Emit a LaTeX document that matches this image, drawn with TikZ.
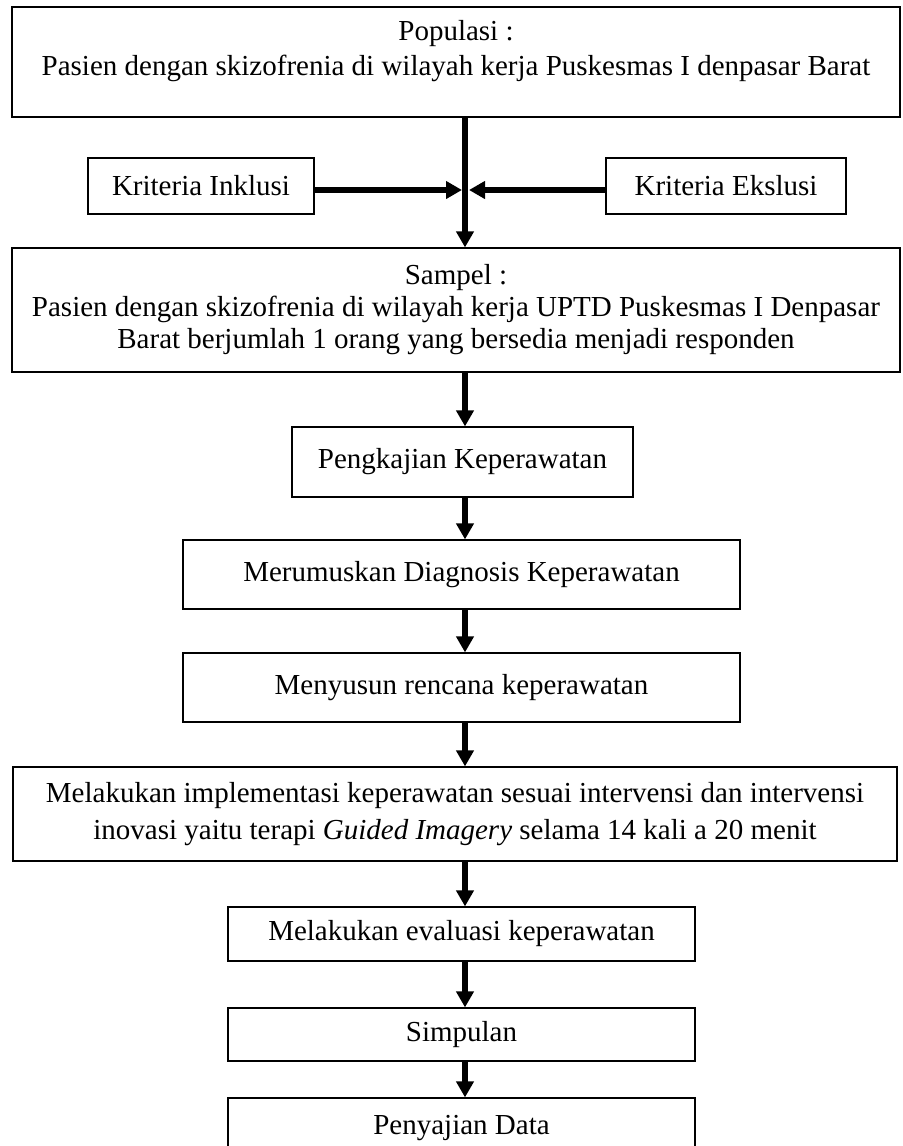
\documentclass[tikz,border=0pt]{standalone}
\usepackage{fontspec}
\setmainfont{Liberation Serif}
\usetikzlibrary{arrows.meta}
\begin{document}
\begin{tikzpicture}[x=0.5pt,y=-0.5pt,
        box/.style={draw,line width=0.6pt,inner sep=0pt,align=center,font=\fontsize{14.5}{17.5}\selectfont},
        arr/.style={line width=3pt,-{Triangle[width=8.5pt,length=8pt]}}]
        \useasboundingbox (0,0) rectangle (902,1146);
        \node[box,minimum width=444pt,minimum height=55pt,text depth=14pt] (pop) at (456,62) {Populasi :\\Pasien dengan skizofrenia di wilayah kerja Puskesmas I denpasar Barat};
        \node[box,minimum width=113pt,minimum height=28pt] (inkl) at (201,186) {Kriteria Inklusi};
        \node[box,minimum width=120pt,minimum height=28pt] (eksl) at (726,186) {Kriteria Ekslusi};
        \node[box,minimum width=444pt,minimum height=62pt,font=\fontsize{14.5}{16}\selectfont] (samp) at (456,310) {Sampel :\\Pasien dengan skizofrenia di wilayah kerja UPTD Puskesmas I Denpasar\\Barat berjumlah 1 orang yang bersedia menjadi responden};
        \node[box,minimum width=170.5pt,minimum height=35pt] (peng) at (462.5,462) {Pengkajian Keperawatan};
        \node[box,minimum width=278.5pt,minimum height=34.5pt] (diag) at (461.5,574.5) {Merumuskan Diagnosis Keperawatan};
        \node[box,minimum width=278.5pt,minimum height=34.5pt] (renc) at (461.5,687.5) {Menyusun rencana keperawatan};
        \node[box,minimum width=442pt,minimum height=47pt,font=\fontsize{14.5}{18.5}\selectfont] (impl) at (455,814) {Melakukan implementasi keperawatan sesuai intervensi dan intervensi\\inovasi yaitu terapi \textit{Guided Imagery} selama 14 kali a 20 menit};
        \node[box,minimum width=233.5pt,minimum height=27pt] (eval) at (461.5,934) {Melakukan evaluasi keperawatan};
        \node[box,minimum width=233.5pt,minimum height=26.5pt] (simp) at (461.5,1034.5) {Simpulan};
        \node[box,minimum width=233.5pt,minimum height=30pt] (saji) at (461.5,1128) {Penyajian Data};
        \coordinate (spine) at (465,190);
        \draw[arr] (pop.south -| spine) -- (samp.north -| spine);
        \draw[arr] (inkl.east |- spine) -- ([xshift=-1.5pt]spine);
        \draw[arr] (eksl.west |- spine) -- ([xshift=2pt]spine);
        \draw[arr] (samp.south -| spine) -- (peng.north -| spine);
        \draw[arr] (peng.south -| spine) -- (diag.north -| spine);
        \draw[arr] (diag.south -| spine) -- (renc.north -| spine);
        \draw[arr] (renc.south -| spine) -- (impl.north -| spine);
        \draw[arr] (impl.south -| spine) -- (eval.north -| spine);
        \draw[arr] (eval.south -| spine) -- (simp.north -| spine);
        \draw[arr] (simp.south -| spine) -- (saji.north -| spine);
    \end{tikzpicture}
\end{document}
